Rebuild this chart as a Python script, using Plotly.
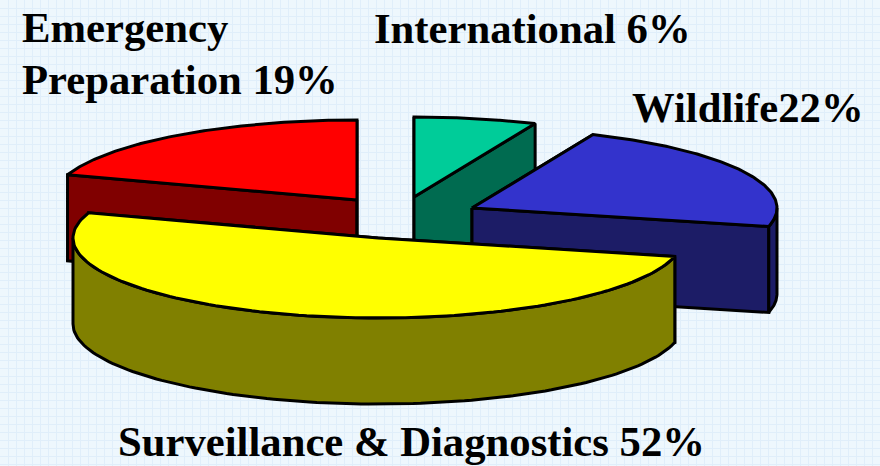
import numpy as np
import plotly.graph_objects as go

# Data
categories = ["International", "Wildlife", "Surveillance & Diagnostics", "Emergency Preparation"]
shares = [6.5, 22.2, 51.4, 19.9]  # slice sizes as drawn
printed_labels = ["International 6%", "Wildlife22%", "Surveillance &amp; Diagnostics 52%", "Emergency<br>Preparation 19%"]

# Styles
top_colors = ["#00CC99", "#3333CC", "#FFFF00", "#FF0000"]
side_colors = ["#006B50", "#1C1C66", "#808000", "#800000"]
cut_colors = ["#006B50", "#1C1C66", "#808000", "#800000"]
outline = "#000000"

# Pie geometry (pixel-like scale of the hidden axes)
W, H = 880, 466
RX, RY, DEPTH = 305, 80, 86
CENTER = (400, 215)
pull_x = [14, 72, -22, -43]
pull_y = [-18, -7, 23, -15]
draw_order = [0, 3, 1, 2]
label_x = [532, 748, 411, 20]
label_y = [28, 107, 441.5, 27]
label_anchor = ["center", "center", "center", "left"]
LINE_STEP = 52

fig = go.Figure()


def poly(xs, ys, color):
    fig.add_trace(go.Scatter(
        x=list(xs), y=list(ys), mode="lines", fill="toself", fillcolor=color,
        line=dict(color=outline, width=3, shape="linear"), hoverinfo="skip", showlegend=False,
    ))


cum = np.cumsum([0] + shares)
angles = cum / cum[-1] * 2 * np.pi

for i in draw_order:
    a0, a1 = angles[i], angles[i + 1]
    ax = CENTER[0] + pull_x[i]
    ay = CENTER[1] + pull_y[i]
    t = np.linspace(a0, a1, 120)
    arc_x = ax + RX * np.sin(t)
    arc_y = ay - RY * np.cos(t)
    # cut faces, back first
    for a in (a0, a1):
        ex, ey = ax + RX * np.sin(a), ay - RY * np.cos(a)
        poly([ax, ex, ex, ax, ax], [ay, ey, ey + DEPTH, ay + DEPTH, ay], cut_colors[i])
    # front-facing outer wall
    lo, hi = max(a0, np.pi / 2), min(a1, 3 * np.pi / 2)
    if hi > lo:
        tw = np.linspace(lo, hi, 120)
        wx = ax + RX * np.sin(tw)
        wy = ay - RY * np.cos(tw)
        poly(np.r_[wx, wx[::-1], wx[0]], np.r_[wy, wy[::-1] + DEPTH, wy[0]], side_colors[i])
    # top face
    poly(np.r_[ax, arc_x, ax], np.r_[ay, arc_y, ay], top_colors[i])

for txt, x, y, anc in zip(printed_labels, label_x, label_y, label_anchor):
    for k, line in enumerate(txt.split("<br>")):
        fig.add_annotation(
            x=x, y=y + k * LINE_STEP, text="<b>" + line + "</b>", showarrow=False,
            xanchor=anc, yanchor="middle", align="left",
            font=dict(family="Liberation Serif", size=42.7, color="#000000"),
        )

axis = dict(visible=True, showticklabels=False, zeroline=False, showline=False, ticks="",
            showgrid=True, gridcolor="#E0EEFA", gridwidth=1, dtick=8, tick0=0)
fig.update_layout(
    width=W, height=H, margin=dict(l=0, r=0, t=0, b=0),
    paper_bgcolor="#EEF7FD", plot_bgcolor="#EEF7FD", showlegend=False,
    xaxis=dict(axis, range=[0, W]),
    yaxis=dict(axis, range=[H, 0]),
    font=dict(family="Liberation Serif"),
)

fig.write_html(
    "out.html",
    config=dict(displayModeBar=False),
    post_script="document.body.style.margin='0';document.body.style.overflow='hidden';",
)
